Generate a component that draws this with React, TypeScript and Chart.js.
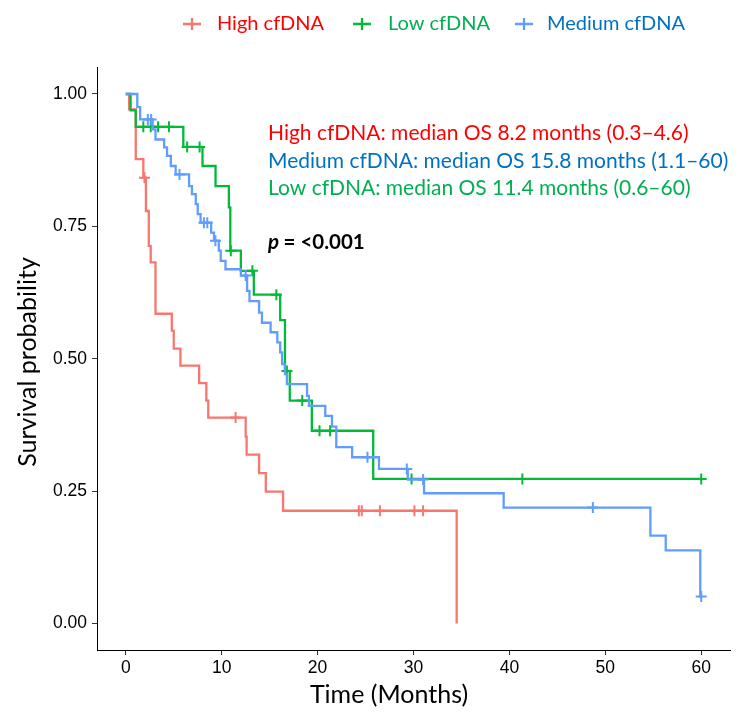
import React, { useEffect, useRef } from "react";
import { Chart, registerables } from "chart.js";

Chart.register(...registerables);

// ---- data ----
const highTimes = [0, 0.35, 1.04, 1.83, 2.1, 2.4, 2.6, 3.1, 4.8, 5.0, 5.7, 7.65, 8.4, 8.6, 12.5, 12.6, 13.9, 14.6, 16.4, 34.5];
const highSurv = [1.0, 0.971, 0.877, 0.842, 0.779, 0.713, 0.682, 0.585, 0.553, 0.519, 0.487, 0.454, 0.421, 0.389, 0.353, 0.319, 0.284, 0.249, 0.213, 0.0];
const highCensor = [1.95, 11.45, 24.3, 24.6, 26.5, 30.1, 31.0];

const lowTimes = [0, 0.5, 1.04, 6.0, 8.0, 9.36, 10.75, 10.9, 12.0, 13.35, 16.1, 16.6, 17.1, 19.4, 25.8, 60];
const lowSurv = [1.0, 0.969, 0.938, 0.9, 0.864, 0.826, 0.786, 0.704, 0.666, 0.621, 0.573, 0.477, 0.421, 0.364, 0.273, 0.273];
const lowCensor = [1.83, 2.6, 3.37, 4.5, 6.4, 7.7, 10.95, 13.2, 15.7, 16.8, 18.4, 20.2, 21.3, 29.8, 41.35, 60];

const medTimes = [0, 1.2, 1.5, 2.8, 3.1, 4.0, 4.3, 4.7, 5.2, 6.6, 6.9, 7.3, 7.5, 7.8, 8.9, 9.2, 9.7, 9.9, 10.4, 12.0, 12.65, 12.9, 13.9, 14.2, 15.1, 15.8, 16.1, 16.3, 16.6, 16.8, 18.9, 19.1, 20.8, 21.5, 21.95, 23.6, 26.4, 29.4, 31.1, 39.4, 54.7, 56.3, 59.9, 60];
const medSurv = [1.0, 0.975, 0.952, 0.933, 0.914, 0.899, 0.883, 0.864, 0.848, 0.826, 0.811, 0.792, 0.773, 0.757, 0.738, 0.723, 0.704, 0.685, 0.669, 0.657, 0.628, 0.609, 0.587, 0.568, 0.55, 0.531, 0.512, 0.49, 0.471, 0.452, 0.43, 0.411, 0.392, 0.372, 0.333, 0.314, 0.292, 0.272, 0.246, 0.219, 0.166, 0.138, 0.051, 0.051];
const medCensor = [2.3, 2.65, 5.6, 8.15, 8.5, 9.35, 12.5, 25.2, 29.3, 31.0, 48.7, 60];

const xTicks = [0, 10, 20, 30, 40, 50, 60];
const yTicks = [0, 0.25, 0.5, 0.75, 1.0];

const groupNames = ["High cfDNA", "Low cfDNA", "Medium cfDNA"];
const annotationLines = [
  "High cfDNA: median OS 8.2 months (0.3\u20134.6)",
  "Medium cfDNA: median OS 15.8 months (1.1\u201360)",
  "Low cfDNA: median OS 11.4 months (0.6\u201360)",
];
const pValueText = "= <0.001";

// ---- styles ----
const lineColors = ["#F8766D", "#00BA38", "#619CFF"];
const textColors = ["#FF0000", "#00B050", "#0070C0"];
const annoColors = ["#FF0000", "#0070C0", "#00B050"];
const humanist = "Lato, 'Open Sans', sans-serif";
const arial = "'Liberation Sans', Arial, sans-serif";

function survAt(times: number[], surv: number[], t: number) {
  let v = surv[0];
  for (let i = 0; i < times.length; i++) {
    if (times[i] <= t) v = surv[i];
  }
  return v;
}

function curve(times: number[], surv: number[]) {
  return times.map((t, i) => ({ x: t, y: surv[i] }));
}

function censors(times: number[], surv: number[], c: number[]) {
  return c.map((t) => ({ x: t, y: survAt(times, surv, t) }));
}

const textPlugin = {
  id: "texts",
  afterDraw(chart: any) {
    const ctx = chart.ctx as CanvasRenderingContext2D;
    ctx.save();
    // legend
    const legendY = 24;
    const legendItems = [
      { mx: 192, tx: 217 },
      { mx: 362, tx: 388 },
      { mx: 524, tx: 547 },
    ];
    ctx.font = `20px ${humanist}`;
    ctx.textBaseline = "middle";
    ctx.textAlign = "left";
    legendItems.forEach((it, i) => {
      ctx.strokeStyle = lineColors[i];
      ctx.lineWidth = 2.3;
      ctx.beginPath();
      ctx.moveTo(it.mx - 9, legendY);
      ctx.lineTo(it.mx + 9, legendY);
      ctx.moveTo(it.mx, legendY - 6);
      ctx.lineTo(it.mx, legendY + 6);
      ctx.stroke();
      ctx.fillStyle = textColors[i];
      ctx.fillText(groupNames[i], it.tx, legendY);
    });

    // annotations
    ctx.font = `21px ${humanist}`;
    const annoX = 268;
    const annoY = [133, 161, 188];
    annotationLines.forEach((s, i) => {
      ctx.fillStyle = annoColors[i];
      ctx.fillText(s, annoX, annoY[i]);
    });
    ctx.fillStyle = "#000";
    ctx.font = `italic bold 20.5px ${humanist}`;
    ctx.fillText("p", annoX, 242);
    const pw = ctx.measureText("p ").width;
    ctx.font = `bold 20.5px ${humanist}`;
    ctx.fillText(pValueText, annoX + pw, 242);

    // axis titles
    ctx.font = `25px ${humanist}`;
    ctx.textAlign = "center";
    ctx.fillStyle = "#000";
    ctx.fillText("Time (Months)", 389, 695);
    ctx.translate(28, 362);
    ctx.rotate(-Math.PI / 2);
    ctx.fillText("Survival probability", 0, 0);
    ctx.restore();
  },
};

export default function App() {
  const ref = useRef<HTMLCanvasElement>(null);
  useEffect(() => {
    if (!ref.current) return;
    const mk = (i: number, times: number[], surv: number[], c: number[], order: number) => [
      {
        label: groupNames[i],
        data: curve(times, surv),
        borderColor: lineColors[i],
        backgroundColor: lineColors[i],
        borderWidth: 2.3,
        stepped: "before" as const,
        pointRadius: 0,
        fill: false,
        order,
      },
      {
        label: groupNames[i] + " censored",
        data: censors(times, surv, c),
        showLine: false,
        borderColor: lineColors[i],
        backgroundColor: lineColors[i],
        pointStyle: "cross",
        pointRadius: 5.5,
        pointBorderWidth: 2,
        order,
      },
    ];
    const chart = new Chart(ref.current, {
      type: "line",
      data: {
        datasets: [
          ...mk(0, highTimes, highSurv, highCensor, 3),
          ...mk(1, lowTimes, lowSurv, lowCensor, 2),
          ...mk(2, medTimes, medSurv, medCensor, 1),
        ] as any,
      },
      options: {
        animation: false,
        responsive: false,
        events: [],
        layout: { padding: { top: 67.5, right: 17, left: 0, bottom: 0 } },
        plugins: { legend: { display: false }, tooltip: { enabled: false } },
        scales: {
          x: {
            type: "linear",
            min: -3,
            max: 63,
            afterBuildTicks: (s: any) => {
              s.ticks = xTicks.map((v) => ({ value: v }));
            },
            afterFit: (s: any) => {
              s.height = 71;
            },
            grid: { display: true, drawOnChartArea: false, drawTicks: true, tickLength: 5, color: "#333", lineWidth: 1 },
            border: { display: true, color: "#000", width: 1 },
            ticks: { color: "#000", font: { family: arial, size: 17.5 }, padding: 3, maxRotation: 0, callback: (v: any) => String(v) },
          },
          y: {
            type: "linear",
            min: -0.05,
            max: 1.05,
            afterBuildTicks: (s: any) => {
              s.ticks = yTicks.map((v) => ({ value: v }));
            },
            afterFit: (s: any) => {
              s.width = 97;
            },
            grid: { display: true, drawOnChartArea: false, drawTicks: true, tickLength: 5, color: "#333", lineWidth: 1 },
            border: { display: true, color: "#000", width: 1 },
            ticks: { color: "#000", font: { family: arial, size: 17.5 }, padding: 5, callback: (v: any) => Number(v).toFixed(2) },
          },
        },
      },
      plugins: [textPlugin],
    });
    return () => chart.destroy();
  }, []);
  return (
    <div style={{ position: "fixed", left: 0, top: 0, width: 747, height: 721, background: "#fff" }}>
      <canvas ref={ref} width={747} height={721} />
    </div>
  );
}
